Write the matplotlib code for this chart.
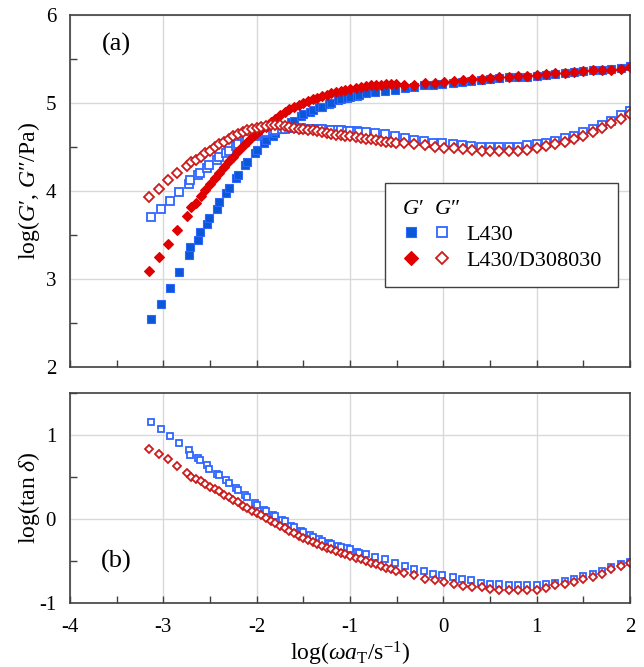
import matplotlib
matplotlib.use("Agg")
import matplotlib.pyplot as plt
from matplotlib.legend_handler import HandlerTuple
from matplotlib.ticker import MultipleLocator

plt.rcParams["font.family"] = ["Liberation Serif", "DejaVu Serif"]
plt.rcParams["mathtext.fontset"] = "custom"
plt.rcParams["mathtext.rm"] = "Liberation Serif"
plt.rcParams["mathtext.it"] = "Liberation Serif:italic"
plt.rcParams["axes.unicode_minus"] = False

# L430: log(omega aT), log G', log G'', log tan delta
x_l430 = [-3.13, -3.03, -2.93, -2.83, -2.73, -2.71, -2.63, -2.61, -2.53, -2.51,
          -2.43, -2.40, -2.33, -2.30, -2.22, -2.20, -2.12, -2.10, -2.02, -2.00,
          -1.92, -1.90, -1.83, -1.80, -1.73, -1.70, -1.63, -1.60, -1.53, -1.50,
          -1.43, -1.40, -1.33, -1.30, -1.23, -1.20, -1.13, -1.10, -1.03, -1.00,
          -0.93, -0.90, -0.83, -0.73, -0.63, -0.52, -0.41, -0.31, -0.21, -0.11,
          -0.01, 0.10, 0.20, 0.30, 0.40, 0.50, 0.60, 0.70, 0.80, 0.90,
          1.00, 1.10, 1.20, 1.30, 1.40, 1.50, 1.60, 1.70, 1.80, 1.90, 2.00]
gp_l430 = [2.54, 2.72, 2.90, 3.08, 3.27, 3.36, 3.44, 3.53, 3.63, 3.69,
           3.80, 3.87, 3.98, 4.03, 4.15, 4.18, 4.29, 4.33, 4.43, 4.47,
           4.55, 4.58, 4.63, 4.66, 4.71, 4.74, 4.78, 4.80, 4.85, 4.87,
           4.90, 4.92, 4.95, 4.96, 4.99, 5.00, 5.03, 5.04, 5.06, 5.07,
           5.08, 5.09, 5.11, 5.12, 5.14, 5.15, 5.17, 5.18, 5.20, 5.21,
           5.22, 5.23, 5.24, 5.25, 5.26, 5.27, 5.28, 5.29, 5.30, 5.30,
           5.31, 5.32, 5.33, 5.34, 5.35, 5.36, 5.37, 5.38, 5.39, 5.40, 5.42]
gpp_l430 = [3.70, 3.80, 3.89, 3.99, 4.08, 4.13, 4.18, 4.21, 4.26, 4.29,
            4.35, 4.39, 4.43, 4.46, 4.51, 4.53, 4.56, 4.59, 4.62, 4.64,
            4.66, 4.67, 4.68, 4.69, 4.70, 4.71, 4.72, 4.72, 4.72, 4.71,
            4.71, 4.70, 4.70, 4.70, 4.69, 4.69, 4.69, 4.69, 4.68, 4.68,
            4.68, 4.67, 4.67, 4.66, 4.65, 4.63, 4.60, 4.58, 4.57, 4.55,
            4.55, 4.53, 4.52, 4.51, 4.50, 4.50, 4.50, 4.50, 4.50, 4.52,
            4.53, 4.55, 4.57, 4.60, 4.63, 4.67, 4.71, 4.75, 4.80, 4.86, 4.91]
tan_l430 = [1.15, 1.07, 0.99, 0.90, 0.82, 0.76, 0.73, 0.70, 0.64, 0.60,
            0.54, 0.52, 0.46, 0.43, 0.37, 0.35, 0.29, 0.26, 0.19, 0.17,
            0.11, 0.09, 0.05, 0.03, -0.01, -0.03, -0.08, -0.10, -0.14, -0.16,
            -0.19, -0.21, -0.24, -0.26, -0.29, -0.30, -0.32, -0.33, -0.35, -0.36,
            -0.39, -0.40, -0.42, -0.45, -0.48, -0.53, -0.56, -0.59, -0.62, -0.65,
            -0.67, -0.69, -0.72, -0.73, -0.76, -0.77, -0.78, -0.79, -0.79, -0.79,
            -0.79, -0.77, -0.76, -0.74, -0.72, -0.68, -0.65, -0.62, -0.57, -0.54, -0.51]

# L430/D308030
x_blend = [-3.15, -3.05, -2.95, -2.85, -2.75, -2.70, -2.65, -2.60, -2.55, -2.50,
           -2.45, -2.40, -2.35, -2.30, -2.25, -2.20, -2.15, -2.10, -2.05, -2.00,
           -1.95, -1.90, -1.85, -1.80, -1.75, -1.70, -1.65, -1.60, -1.55, -1.50,
           -1.45, -1.40, -1.35, -1.30, -1.25, -1.20, -1.15, -1.10, -1.05, -1.00,
           -0.94, -0.88, -0.83, -0.78, -0.72, -0.67, -0.61, -0.56, -0.51, -0.42,
           -0.31, -0.20, -0.09, 0.01, 0.11, 0.21, 0.31, 0.41, 0.50, 0.60,
           0.70, 0.80, 0.90, 1.00, 1.10, 1.20, 1.30, 1.40, 1.50, 1.60,
           1.70, 1.80, 1.90, 2.00]
gp_blend = [3.09, 3.25, 3.40, 3.56, 3.72, 3.82, 3.86, 3.94, 4.01, 4.08,
            4.15, 4.21, 4.27, 4.34, 4.39, 4.45, 4.51, 4.56, 4.61, 4.66,
            4.70, 4.73, 4.78, 4.82, 4.86, 4.90, 4.93, 4.95, 4.98, 5.00,
            5.02, 5.04, 5.06, 5.08, 5.09, 5.11, 5.12, 5.14, 5.15, 5.16,
            5.17, 5.18, 5.19, 5.20, 5.20, 5.21, 5.22, 5.22, 5.22, 5.21,
            5.21, 5.23, 5.23, 5.24, 5.25, 5.26, 5.27, 5.27, 5.28, 5.29,
            5.30, 5.31, 5.31, 5.32, 5.33, 5.34, 5.34, 5.35, 5.36, 5.37,
            5.38, 5.38, 5.39, 5.41]
gpp_blend = [3.93, 4.02, 4.12, 4.20, 4.28, 4.33, 4.35, 4.39, 4.43, 4.46,
             4.50, 4.53, 4.56, 4.59, 4.62, 4.65, 4.67, 4.69, 4.71, 4.72,
             4.73, 4.74, 4.75, 4.75, 4.75, 4.74, 4.73, 4.72, 4.71, 4.70,
             4.69, 4.69, 4.68, 4.67, 4.66, 4.65, 4.64, 4.64, 4.63, 4.62,
             4.61, 4.60, 4.59, 4.59, 4.58, 4.57, 4.56, 4.56, 4.55, 4.55,
             4.53, 4.52, 4.50, 4.49, 4.49, 4.48, 4.47, 4.46, 4.46, 4.45,
             4.45, 4.46, 4.47, 4.49, 4.51, 4.53, 4.56, 4.59, 4.63, 4.67,
             4.72, 4.77, 4.82, 4.88]
tan_blend = [0.83, 0.77, 0.71, 0.63, 0.55, 0.50, 0.48, 0.45, 0.42, 0.38,
             0.36, 0.33, 0.29, 0.26, 0.23, 0.20, 0.16, 0.13, 0.10, 0.07,
             0.045, 0.01, -0.02, -0.05, -0.08, -0.11, -0.14, -0.17, -0.20, -0.23,
             -0.25, -0.28, -0.30, -0.32, -0.34, -0.36, -0.38, -0.40, -0.42, -0.44,
             -0.47, -0.48, -0.50, -0.52, -0.54, -0.56, -0.58, -0.60, -0.62, -0.645,
             -0.67, -0.71, -0.73, -0.75, -0.78, -0.80, -0.81, -0.81, -0.83, -0.84,
             -0.85, -0.85, -0.85, -0.84, -0.82, -0.79, -0.77, -0.75, -0.72, -0.69,
             -0.65, -0.60, -0.56, -0.52]

blue_fill = "#0a58d8"
blue_edge = "#2f66ff"
red_fill = "#e00000"
red_edge = "#cc1a1a"

fig = plt.figure(figsize=(6.44, 6.67), dpi=100)
ax1 = fig.add_axes([0.1087, 0.4498, 0.8696, 0.5277])
ax2 = fig.add_axes([0.1087, 0.0960, 0.8696, 0.3148])

# top panel: G' and G''
h1, = ax1.plot(x_l430, gp_l430, "s", ms=5.6, mfc=blue_fill, mec=blue_edge, mew=0.8, ls="none")
h2, = ax1.plot(x_l430, gpp_l430, "s", ms=5.4, mfc="white", mec=blue_edge, mew=1.3, ls="none")
h3, = ax1.plot(x_blend, gp_blend, "D", ms=5.0, mfc=red_fill, mec=red_fill, mew=0.8, ls="none")
h4, = ax1.plot(x_blend, gpp_blend, "D", ms=4.6, mfc="white", mec=red_edge, mew=1.3, ls="none")

# bottom panel: tan delta
ax2.plot(x_l430, tan_l430, "s", ms=5.0, mfc="white", mec=blue_edge, mew=1.3, ls="none")
ax2.plot(x_blend, tan_blend, "D", ms=4.3, mfc="white", mec=red_edge, mew=1.3, ls="none")

for ax in (ax1, ax2):
    ax.set_xlim(-4, 2)
    ax.xaxis.set_major_locator(MultipleLocator(1))
    ax.xaxis.set_minor_locator(MultipleLocator(0.5))
    ax.yaxis.set_minor_locator(MultipleLocator(0.5))
    ax.grid(True, which="major", color="#d9d9d9", lw=1.0)
    ax.set_axisbelow(True)
    ax.tick_params(axis="x", which="both", direction="in", length=5, width=1.0,
                   color="#404040", labelsize=15, pad=11)
    ax.tick_params(axis="y", which="major", length=0, labelsize=15, pad=10)
    ax.tick_params(axis="y", which="minor", direction="in", length=5, width=1.0, color="#404040")
    for s in ax.spines.values():
        s.set_color("#404040")
        s.set_linewidth(1.2)

ax1.set_ylim(2, 6)
ax1.yaxis.set_major_locator(MultipleLocator(1))
ax1.tick_params(axis="x", labelbottom=False)
ax2.set_ylim(-1, 1.5)
ax2.set_yticks([-1, 0, 1])

ax1.set_ylabel("log($G′$, $G″$/Pa)", fontsize=17)
ax2.set_ylabel(r"log(tan $\delta$)", fontsize=17)
ax2.set_xlabel(r"log($\omega a_{\mathrm{T}}$/s$^{-1}$)", fontsize=17, labelpad=2)
ax1.yaxis.set_label_coords(-0.05, 0.5)
ax2.yaxis.set_label_coords(-0.05, 0.5)

ax1.text(-3.5, 5.66, "(a)", fontsize=19, ha="center", va="center")
ax2.text(-3.5, -0.5, "(b)", fontsize=19, ha="center", va="center")

leg = ax1.legend([(h1, h2), (h3, h4)], ["L430", "L430/D308030"],
                 handler_map={tuple: HandlerTuple(ndivide=None, pad=0.6)},
                 title="$G′$  $G″$", alignment="left",
                 loc="upper right", bbox_to_anchor=(0.979, 0.523), borderaxespad=0,
                 frameon=True, fancybox=False, framealpha=1, edgecolor="#404040",
                 fontsize=16, title_fontsize=16, handlelength=2.2, markerscale=1.4,
                 handletextpad=0.7, borderpad=0.75, labelspacing=0.25)
leg.get_frame().set_linewidth(1.0)

fig.savefig("out.png", dpi=100)
